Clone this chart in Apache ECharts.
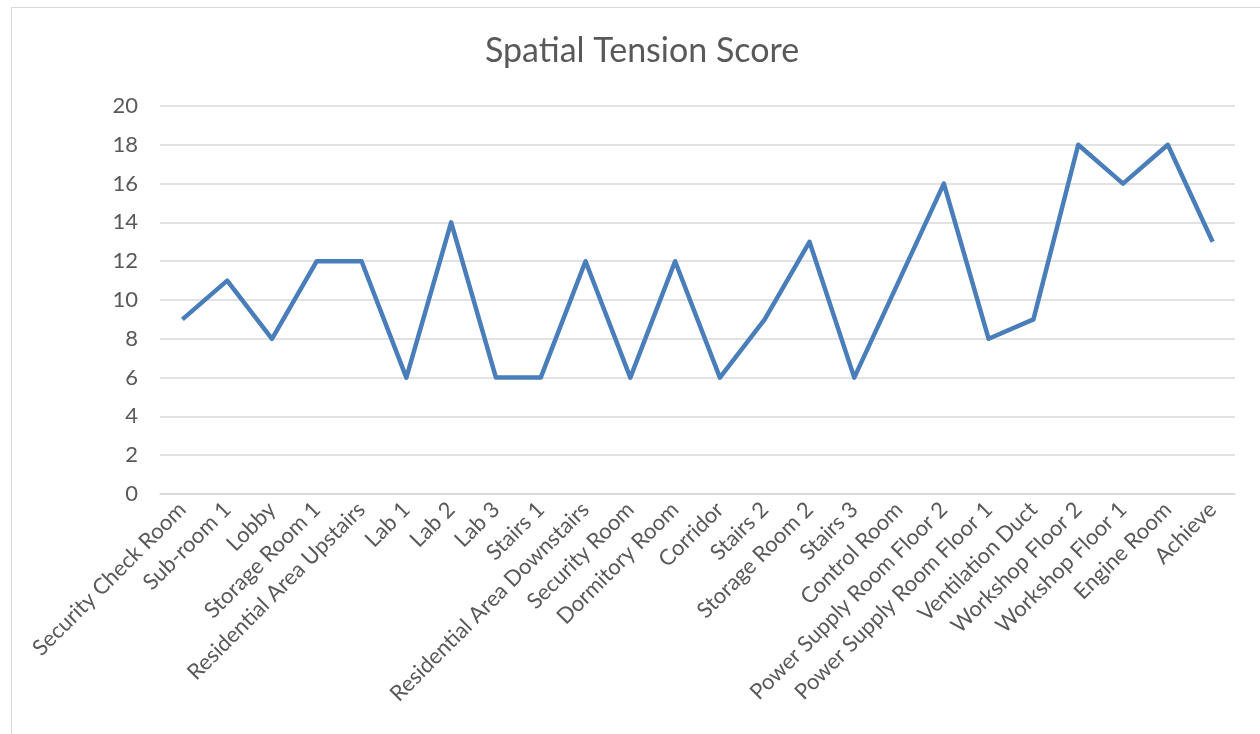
<!DOCTYPE html>
<html>
<head>
<meta charset="utf-8">
<script src="https://cdn.jsdelivr.net/npm/echarts@6/dist/echarts.min.js"></script>
<style>
  html, body { margin: 0; padding: 0; background: #fff; }
  #frame { position: absolute; left: 11px; top: 7px; width: 1300px; height: 800px; border: 1px solid #d9d9d9; }
  #chart { position: absolute; left: 0; top: 0; width: 1260px; height: 734px; }
</style>
</head>
<body>
<div id="frame"></div>
<div id="chart"></div>
<script>
const rooms = [
  'Security Check Room', 'Sub-room 1', 'Lobby', 'Storage Room 1', 'Residential Area Upstairs',
  'Lab 1', 'Lab 2', 'Lab 3', 'Stairs 1', 'Residential Area Downstairs', 'Security Room',
  'Dormitory Room', 'Corridor', 'Stairs 2', 'Storage Room 2', 'Stairs 3', 'Control Room',
  'Power Supply Room Floor 2', 'Power Supply Room Floor 1', 'Ventilation Duct',
  'Workshop Floor 2', 'Workshop Floor 1', 'Engine Room', 'Achieve'
]
const scores = [9, 11, 8, 12, 12, 6, 14, 6, 6, 12, 6, 12, 6, 9, 13, 6, 11, 16, 8, 9, 18, 16, 18, 13]

const chart = echarts.init(document.getElementById('chart'))
const labelFont = 'Lato, "Open Sans", sans-serif'

chart.setOption({
  animation: false,
  title: {
    text: 'Spatial Tension Score',
    left: 637,
    top: 29,
    textAlign: 'center',
    textStyle: { color: '#595959', fontSize: 34, fontWeight: 'normal', fontFamily: labelFont }
  },
  grid: { left: 160, right: 25, top: 106, bottom: 240 },
  xAxis: {
    type: 'category',
    data: rooms,
    boundaryGap: true,
    axisLine: { lineStyle: { color: '#d9d9d9', width: 1.5 } },
    axisTick: { show: false },
    axisLabel: {
      interval: 0,
      rotate: 45,
      margin: 12,
      color: '#595959',
      fontSize: 22,
      fontFamily: labelFont
    }
  },
  yAxis: {
    type: 'value',
    min: 0,
    max: 20,
    interval: 2,
    axisLine: { show: false },
    axisTick: { show: false },
    splitLine: { lineStyle: { color: '#d9d9d9', width: 1.5 } },
    axisLabel: { margin: 22, color: '#595959', fontSize: 22, fontFamily: labelFont }
  },
  series: [
    {
      type: 'line',
      data: scores,
      symbol: 'none',
      lineStyle: { color: '#4a7ebb', width: 4.5, join: 'round' }
    }
  ]
})
</script>
</body>
</html>
